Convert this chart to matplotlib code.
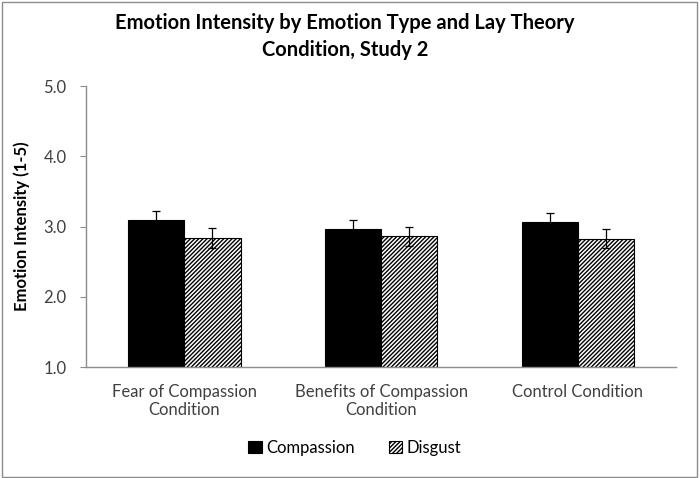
import numpy as np
import matplotlib
matplotlib.use('Agg')
import matplotlib.pyplot as plt
from matplotlib.patches import Rectangle

plt.rcParams['font.family'] = ['Lato', 'DejaVu Sans']
plt.rcParams['hatch.linewidth'] = 1.0

categories = ['Fear of Compassion\nCondition', 'Benefits of Compassion\nCondition', 'Control Condition']
compassion = [3.09, 2.97, 3.07]
compassion_err = [0.13, 0.13, 0.13]
disgust = [2.84, 2.86, 2.83]
disgust_err = [0.14, 0.14, 0.14]

fig = plt.figure(figsize=(7, 4.78), dpi=100)
ax = fig.add_axes([0.123, 0.232, 0.843, 0.588])

x = np.arange(len(categories))
w = 0.285
grey = '#8c8c8c'
ekw = dict(ecolor='black', elinewidth=0.9, capsize=3, capthick=0.9)
ax.bar(x - w / 2, compassion, w, color='black', edgecolor='black', lw=0.8,
       yerr=compassion_err, error_kw=ekw, label='Compassion', zorder=2)
ax.bar(x + w / 2, disgust, w, color='white', edgecolor='black', lw=0.8, hatch='////////',
       yerr=disgust_err, error_kw=ekw, label='Disgust', zorder=2)

ax.set_xlim(-0.5, 2.5)
ax.set_ylim(1.0, 5.0)
yt = [1.0, 2.0, 3.0, 4.0, 5.0]
ax.set_yticks(yt)
ax.set_yticklabels(['%.1f' % v for v in yt], fontsize=12, color='#404040')
ax.set_xticks(x)
ax.set_xticklabels(categories, fontsize=12, color='#404040')
ax.tick_params(axis='x', length=0, pad=12)
ax.tick_params(axis='y', length=4, color=grey, pad=10)
for s in ['top', 'right']:
    ax.spines[s].set_visible(False)
for s in ['left', 'bottom']:
    ax.spines[s].set_color(grey)
    ax.spines[s].set_linewidth(1)

ax.set_ylabel('Emotion Intensity (1-5)', fontsize=12, fontweight='bold', labelpad=10)
fig.suptitle('Emotion Intensity by Emotion Type and Lay Theory\nCondition, Study 2',
             fontsize=14.5, fontweight='bold', y=0.972, x=0.493, linespacing=1.4)

fig.legend(loc='center', bbox_to_anchor=(0.507, 0.063), ncol=2, frameon=False, fontsize=12,
           handlelength=0.8, handleheight=0.8, handletextpad=0.3, columnspacing=2.0)

fig.patches.append(Rectangle((0.003, 0.003), 0.992, 0.992, transform=fig.transFigure,
                             fill=False, edgecolor=grey, lw=1))

fig.savefig('out.png', dpi=100)
